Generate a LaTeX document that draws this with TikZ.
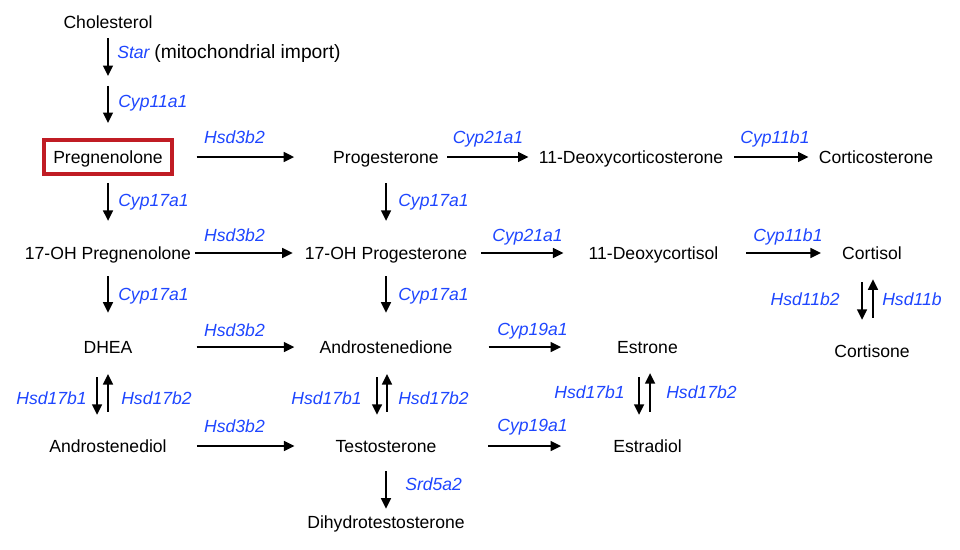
\documentclass[tikz,border=0pt]{standalone}
\usepackage{fontspec}
\setmainfont{Liberation Sans}
\usetikzlibrary{arrows.meta}
\definecolor{enzblue}{RGB}{30,70,255}
\definecolor{boxred}{RGB}{192,28,36}
\tikzset{
  mol/.style={inner sep=0pt, text height=8.9pt, text depth=0pt, font=\fontsize{12.5}{15}\selectfont},
  enz/.style={inner sep=0pt, text=enzblue, font=\fontsize{12.5}{15}\selectfont\itshape},
  arr/.style={line width=1.4pt, -{Triangle[length=7.5pt,width=7pt]}},
}
\begin{document}
\begin{tikzpicture}[x=0.025cm, y=-0.025cm]
\useasboundingbox (0,0) rectangle (960,549);
\node[mol] (chol) at (108,22.7) {Cholesterol};
\coordinate (imp) at (108,81);
\node[mol, draw=boxred, line width=2.83pt, minimum width=91.4pt, minimum height=24.8pt] (preg) at (108,157) {Pregnenolone};
\node[mol] (prog) at (386,157) {Progesterone};
\node[mol] (doc) at (631,157) {11-Deoxycorticosterone};
\node[mol] (cort) at (876,157) {Corticosterone};
\node[mol] (ohpreg) at (108,253) {17-OH Pregnenolone};
\node[mol] (ohprog) at (386,253) {17-OH Progesterone};
\node[mol] (doco) at (653.5,253) {11-Deoxycortisol};
\node[mol] (cortisol) at (872,253) {Cortisol};
\node[mol] (dhea) at (108,347) {DHEA};
\node[mol] (andro) at (386,347) {Androstenedione};
\node[mol] (estrone) at (647.5,347) {Estrone};
\node[mol] (cortisone) at (872,351) {Cortisone};
\node[mol] (adiol) at (108,446) {Androstenediol};
\node[mol] (testo) at (386,446) {Testosterone};
\node[mol] (estradiol) at (647.5,446) {Estradiol};
\node[mol] (dht) at (386,522.6) {Dihydrotestosterone};

\draw[arr, shorten <=6.4pt, shorten >=3.5pt] (chol) -- (imp);
\draw[arr, shorten <=3.5pt, shorten >=10.3pt] (imp) -- (preg);
\draw[arr, shorten <=4.6pt, shorten >=18.2pt] (preg) -- (ohpreg);
\draw[arr, shorten <=14pt, shorten >=18.2pt] (prog) -- (ohprog);
\draw[arr, shorten <=11.8pt, shorten >=19.7pt] (ohpreg) -- (dhea);
\draw[arr, shorten <=11.8pt, shorten >=19.7pt] (ohprog) -- (andro);
\draw[arr, shorten <=13.2pt, shorten >=5.2pt] (testo) -- (dht);

\draw[arr, shorten <=15.9pt, shorten >=27.6pt] (preg) -- (prog);
\draw[arr, shorten <=5.7pt, shorten >=7.1pt] (prog) -- (doc);
\draw[arr, shorten <=7.8pt, shorten >=7.1pt] (doc) -- (cort);
\draw[arr, shorten <=2.8pt, shorten >=8.5pt] (ohpreg) -- (ohprog);
\draw[arr, shorten <=9.9pt, shorten >=17.7pt] (ohprog) -- (doco);
\draw[arr, shorten <=19.8pt, shorten >=14.9pt] (doco) -- (cortisol);
\draw[arr, shorten <=45.4pt, shorten >=17.7pt] (dhea) -- (andro);
\draw[arr, shorten <=25.5pt, shorten >=39.7pt] (andro) -- (estrone);
\draw[arr, shorten <=21.3pt, shorten >=29.1pt] (adiol) -- (testo);
\draw[arr, shorten <=36.9pt, shorten >=36.9pt] (testo) -- (estradiol);

\draw[arr, shorten <=16.7pt, shorten >=17.5pt] ([xshift=-7.8pt]dhea.south) -- ([xshift=-7.8pt]adiol.north);
\draw[arr, shorten <=19.7pt, shorten >=14.6pt] (adiol.north) -- (dhea.south);
\draw[arr, shorten <=16.7pt, shorten >=17.5pt] ([xshift=-6.4pt]andro.south) -- ([xshift=-6.4pt]testo.north);
\draw[arr, shorten <=19.7pt, shorten >=14.6pt] ([xshift=0.7pt]testo.north) -- ([xshift=0.7pt]andro.south);
\draw[arr, shorten <=16.7pt, shorten >=17.5pt] ([xshift=-6pt]estrone.south) -- ([xshift=-6pt]estradiol.north);
\draw[arr, shorten <=19.7pt, shorten >=13.9pt] ([xshift=1.8pt]estradiol.north) -- ([xshift=1.8pt]estrone.south);
\draw[arr, shorten <=16.1pt, shorten >=17.5pt] ([xshift=-7.1pt]cortisol.south) -- ([xshift=-7.1pt]cortisone.north);
\draw[arr, shorten <=18.9pt, shorten >=14pt] ([xshift=0.7pt]cortisone.north) -- ([xshift=0.7pt]cortisol.south);

\node[enz, anchor=base west] (e-star) at (117,58) {Star \textcolor{black}{\fontsize{13.7}{16}\selectfont\upshape(mitochondrial import)}};
\node[enz, anchor=base west] (e-cyp11a1) at (118,107.6) {Cyp11a1};
\node[enz, anchor=base] (e-hsd3b2a) at (234.5,143) {Hsd3b2};
\node[enz, anchor=base] (e-cyp21a1a) at (488,143) {Cyp21a1};
\node[enz, anchor=base] (e-cyp11b1a) at (775,143.6) {Cyp11b1};
\node[enz, anchor=base west] (e-cyp17a1a) at (118,206.5) {Cyp17a1};
\node[enz, anchor=base west] (e-cyp17a1b) at (398,206.5) {Cyp17a1};
\node[enz, anchor=base] (e-hsd3b2b) at (234.5,241.7) {Hsd3b2};
\node[enz, anchor=base] (e-cyp21a1b) at (527.5,241.6) {Cyp21a1};
\node[enz, anchor=base] (e-cyp11b1b) at (788,241) {Cyp11b1};
\node[enz, anchor=base east] (e-hsd11b2) at (840,305) {Hsd11b2};
\node[enz, anchor=base west] (e-hsd11b) at (882,305) {Hsd11b};
\node[enz, anchor=base west] (e-cyp17a1c) at (118,300.6) {Cyp17a1};
\node[enz, anchor=base west] (e-cyp17a1d) at (398,300.6) {Cyp17a1};
\node[enz, anchor=base] (e-hsd3b2c) at (234.5,336) {Hsd3b2};
\node[enz, anchor=base] (e-cyp19a1a) at (532.5,335) {Cyp19a1};
\node[enz, anchor=base east] (e-hsd17b1a) at (87,404) {Hsd17b1};
\node[enz, anchor=base west] (e-hsd17b2a) at (121,404) {Hsd17b2};
\node[enz, anchor=base east] (e-hsd17b1b) at (362,404) {Hsd17b1};
\node[enz, anchor=base west] (e-hsd17b2b) at (398,404) {Hsd17b2};
\node[enz, anchor=base east] (e-hsd17b1c) at (625,398.5) {Hsd17b1};
\node[enz, anchor=base west] (e-hsd17b2c) at (666,398.5) {Hsd17b2};
\node[enz, anchor=base] (e-hsd3b2d) at (234.5,432) {Hsd3b2};
\node[enz, anchor=base] (e-cyp19a1b) at (532.5,431) {Cyp19a1};
\node[enz, anchor=base west] (e-srd5a2) at (405,490.6) {Srd5a2};
\end{tikzpicture}
\end{document}
